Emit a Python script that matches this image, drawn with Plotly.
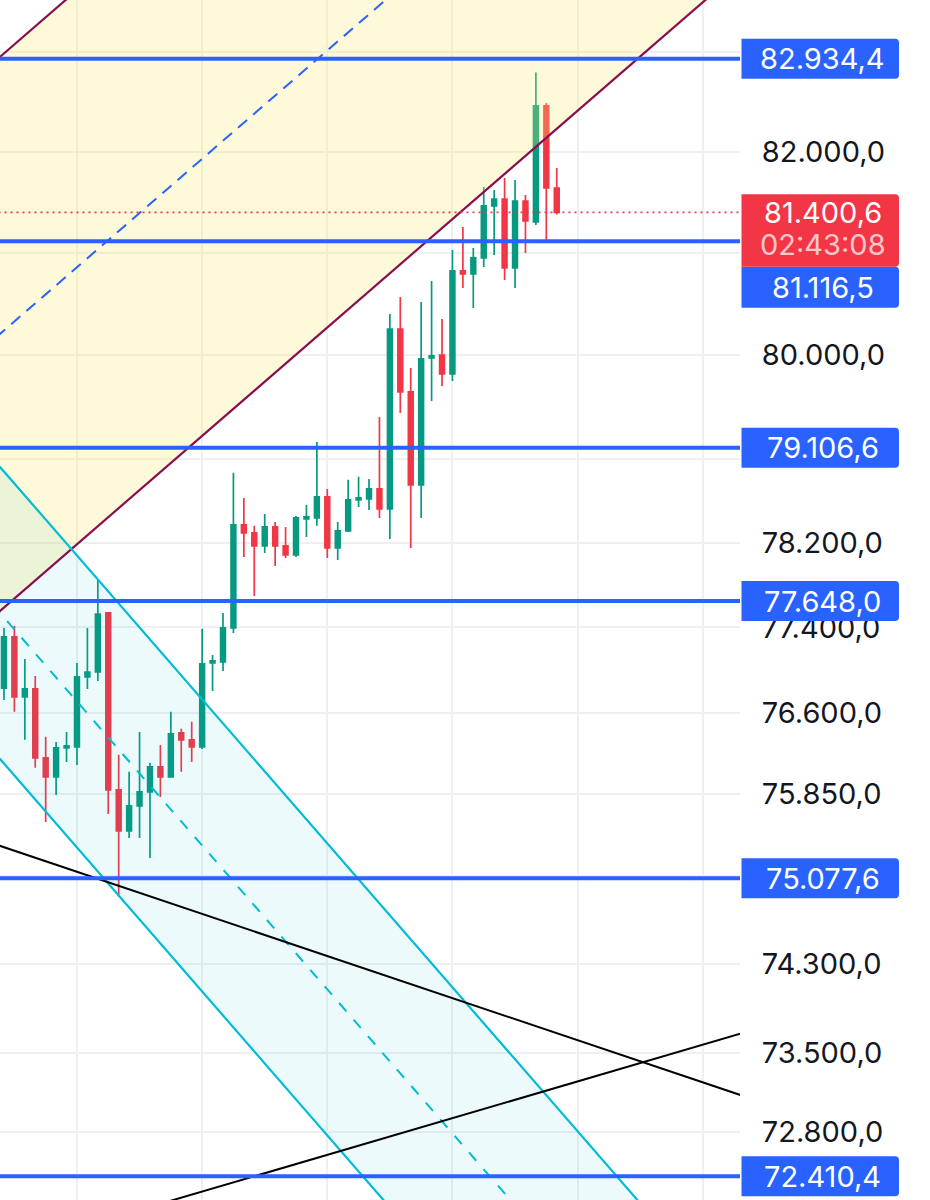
import numpy as np
import plotly.graph_objects as go

# ---------------- data ----------------
# candles, bar index 0..53 (left to right)
opens = [76832, 77310, 76750, 76824, 76183, 76008, 76276, 76285, 76936, 76982,
         77536, 75887, 75510, 75740, 75869, 76100, 76008, 76415, 76350, 76285,
         77066, 77076, 77395, 78369, 78293, 78169, 78350, 78169, 78084, 78426,
         78436, 78636, 78150, 78312, 78607, 78617, 78712, 78521, 80256, 79645,
         78751, 79974, 80003, 79819, 80824, 80795, 80952, 81464, 81533, 80854,
         81513, 81306, 82460, 81642]
highs = [77395, 77414, 77104, 76945, 76378, 76331, 76424, 77066, 77395, 77847,
         77545, 76211, 76054, 76424, 76137, 76303, 76610, 76452, 76517, 77386,
         77141, 77536, 78866, 78626, 78360, 78474, 78398, 78350, 78455, 78559,
         79163, 78712, 78398, 78799, 78828, 78808, 79403, 80402, 80568, 79877,
         80520, 80725, 80354, 81030, 81257, 81050, 81651, 81622, 81741, 81721,
         81572, 82794, 82490, 81841]
lows = [76721, 76610, 76350, 76091, 75593, 75841, 76146, 76118, 76824, 76898,
        75666, 74907, 75446, 75446, 75263, 75823, 75999, 76054, 76146, 76266,
        76805, 76992, 77348, 78065, 77696, 78103, 77980, 78055, 78065, 78255,
        78360, 78055, 78036, 78302, 78540, 78512, 78436, 78236, 79442, 78150,
        78436, 79557, 79703, 79751, 80657, 80461, 80863, 80981, 80735, 80657,
        81001, 81276, 81129, 81380]
closes = [77310, 76750, 76824, 76183, 76008, 76276, 76294, 76936, 76982, 77526,
          75887, 75510, 75740, 75869, 76100, 76008, 76405, 76350, 76285, 77057,
          77085, 77395, 78369, 78293, 78169, 78350, 78169, 78084, 78436, 78445,
          78636, 78150, 78312, 78607, 78626, 78712, 78521, 80256, 79645, 78751,
          79965, 79994, 79819, 80824, 80795, 80952, 81464, 81533, 80854, 81513,
          81316, 82460, 81642, 81400.6]

last_price = 81400.6
countdown = "02:43:08"

# horizontal levels drawn in blue
level_prices = [82934.4, 81116.5, 79106.6, 77648.0, 75077.6, 72410.4]

# price scale ticks (hidden ones are covered by the level labels)
tick_values = [83000, 82000, 81000, 80000, 79000, 78200, 77400, 76600,
               75850, 75100, 74300, 73500, 72800]
hidden_ticks = [83000, 81000, 79000, 75100]
time_grid = [7, 19, 31, 43, 55, 67]

# drawing anchors: (bar index, price)
channel_up_upper = [(0, 82987), (60, 88631)]
channel_up_lower = [(0, 77587), (60, 82865)]
channel_down_upper = [(0, 78879), (60, 72278)]
channel_down_lower = [(0, 76131), (60, 69759)]
trend_down = [(0, 75361), (60, 73459)]
trend_up = [(20, 72302), (60, 73384)]

X_RANGE = [-0.38, 70.57]
PRICE_RANGE = [72201, 83527]

# ---------------- styles ----------------
W, H = 930, 1200
PLOT_RIGHT = 740
GREEN = "#089981"
RED = "#F23645"
BLUE = "#2962FF"
MAROON = "#880E4F"
CYAN = "#00BCD4"
GRID = "#EEEFF1"
FONT = "Inter"
FSIZE = 29

LOG_MIN, LOG_MAX = np.log10(PRICE_RANGE[0]), np.log10(PRICE_RANGE[1])
XE = [-8, 78]


def extend(anchor):
    (i0, p0), (i1, p1) = anchor
    l0, l1 = np.log10(p0), np.log10(p1)
    return [10 ** (l0 + (l1 - l0) * (x - i0) / (i1 - i0)) for x in XE]


def midline(a, b):
    ea, eb = extend(a), extend(b)
    return [float(np.sqrt(u * v)) for u, v in zip(ea, eb)]


def pfrac(price):
    return (np.log10(price) - LOG_MIN) / (LOG_MAX - LOG_MIN)


def fmt(v):
    s = f"{v:,.1f}"
    return s.replace(",", "X").replace(".", ",").replace("X", ".")


fig = go.Figure()

fig.add_trace(go.Candlestick(
    x=list(range(len(opens))), open=opens, high=highs, low=lows, close=closes,
    increasing=dict(line=dict(color=GREEN, width=1.7), fillcolor=GREEN),
    decreasing=dict(line=dict(color=RED, width=1.7), fillcolor=RED),
    whiskerwidth=0, hoverinfo="skip", showlegend=False))

# channel fills (drawn over candles, translucent)
uu, ul = extend(channel_up_upper), extend(channel_up_lower)
fig.add_trace(go.Scatter(x=XE + XE[::-1], y=uu + ul[::-1], mode="lines",
                         fill="toself", fillcolor="rgba(252,234,120,0.28)",
                         line=dict(width=0), hoverinfo="skip"))
du, dl = extend(channel_down_upper), extend(channel_down_lower)
fig.add_trace(go.Scatter(x=XE + XE[::-1], y=du + dl[::-1], mode="lines",
                         fill="toself", fillcolor="rgba(0,188,212,0.07)",
                         line=dict(width=0), hoverinfo="skip"))

# channel lines
for ys in (uu, ul):
    fig.add_trace(go.Scatter(x=XE, y=ys, mode="lines",
                             line=dict(color=MAROON, width=2.2), hoverinfo="skip"))
fig.add_trace(go.Scatter(x=XE, y=midline(channel_up_upper, channel_up_lower), mode="lines",
                         line=dict(color=BLUE, width=2, dash="12px,8px"), hoverinfo="skip"))
for ys in (du, dl):
    fig.add_trace(go.Scatter(x=XE, y=ys, mode="lines",
                             line=dict(color=CYAN, width=2.2), hoverinfo="skip"))
fig.add_trace(go.Scatter(x=XE, y=midline(channel_down_upper, channel_down_lower), mode="lines",
                         line=dict(color=CYAN, width=2, dash="11px,11px"), hoverinfo="skip"))

# trend lines
for tl in (trend_down, trend_up):
    fig.add_trace(go.Scatter(x=XE, y=extend(tl), mode="lines",
                             line=dict(color="#000000", width=2), hoverinfo="skip"))

# horizontal levels
for lv in level_prices:
    fig.add_trace(go.Scatter(x=XE, y=[lv, lv], mode="lines",
                             line=dict(color=BLUE, width=4), hoverinfo="skip"))

# last price dotted line
fig.add_trace(go.Scatter(x=XE, y=[last_price, last_price], mode="lines",
                         line=dict(color=RED, width=1.8, dash="2px,4px"), hoverinfo="skip"))

# ---------------- price-scale labels ----------------
BX0, BX1 = 741.5 / W, 899 / W
TX = 822.5 / W
RX, RY = 4 / W, 4 / H


def box_path(y_top, y_bot):
    return (f"M {BX0},{y_top} L {BX1 - RX},{y_top} Q {BX1},{y_top} {BX1},{y_top - RY} "
            f"L {BX1},{y_bot + RY} Q {BX1},{y_bot} {BX1 - RX},{y_bot} L {BX0},{y_bot} Z")


shapes = []
annotations = []
HALF = 20 / H

red_top = pfrac(last_price) + 18 / H
red_bot = pfrac(last_price) - 54.5 / H

for lv in level_prices:
    if lv == 81116.5:
        top = red_bot
        bot = red_bot - 41 / H
    else:
        top = pfrac(lv) + HALF
        bot = pfrac(lv) - HALF
    shapes.append(dict(type="path", xref="paper", yref="paper", path=box_path(top, bot),
                       fillcolor=BLUE, line=dict(width=0), layer="above"))
    annotations.append(dict(xref="paper", yref="paper", x=TX, y=(top + bot) / 2,
                            text=fmt(lv), showarrow=False, xanchor="center", yanchor="middle",
                            font=dict(family=FONT, size=FSIZE, color="#FFFFFF")))

shapes.append(dict(type="path", xref="paper", yref="paper", path=box_path(red_top, red_bot),
                   fillcolor=RED, line=dict(width=0), layer="above"))
annotations.append(dict(xref="paper", yref="paper", x=TX, y=pfrac(last_price),
                        text=fmt(last_price), showarrow=False, xanchor="center", yanchor="middle",
                        font=dict(family=FONT, size=FSIZE, color="#FFFFFF")))
annotations.append(dict(xref="paper", yref="paper", x=TX, y=pfrac(last_price) - 32 / H,
                        text=countdown, showarrow=False, xanchor="center", yanchor="middle",
                        font=dict(family=FONT, size=FSIZE, color="#FFC7CC")))

fig.update_layout(
    template="none",
    width=W, height=H,
    margin=dict(l=0, r=0, t=0, b=0, pad=0),
    paper_bgcolor="#FFFFFF", plot_bgcolor="#FFFFFF",
    showlegend=False,
    boxgap=0.35,
    shapes=shapes,
    annotations=annotations,
    xaxis=dict(domain=[0, PLOT_RIGHT / W], range=X_RANGE, tickvals=time_grid,
               showticklabels=False, showgrid=True, gridcolor=GRID, gridwidth=1.5,
               zeroline=False, showline=False, ticks="", rangeslider=dict(visible=False),
               automargin=False, fixedrange=True),
    yaxis=dict(type="log", range=[LOG_MIN, LOG_MAX], side="right", anchor="x",
               tickvals=tick_values,
               ticktext=["" if v in hidden_ticks else fmt(v) for v in tick_values],
               showgrid=True, gridcolor=GRID, gridwidth=1.5, zeroline=False, showline=False,
               ticks="outside", ticklen=15, tickcolor="rgba(0,0,0,0)",
               tickfont=dict(family=FONT, size=FSIZE, color="#131722"),
               automargin=False, fixedrange=True),
)

fig.write_html("out.html", config={"displayModeBar": False},
               post_script="document.body.style.margin='0';document.body.style.overflow='hidden';")
